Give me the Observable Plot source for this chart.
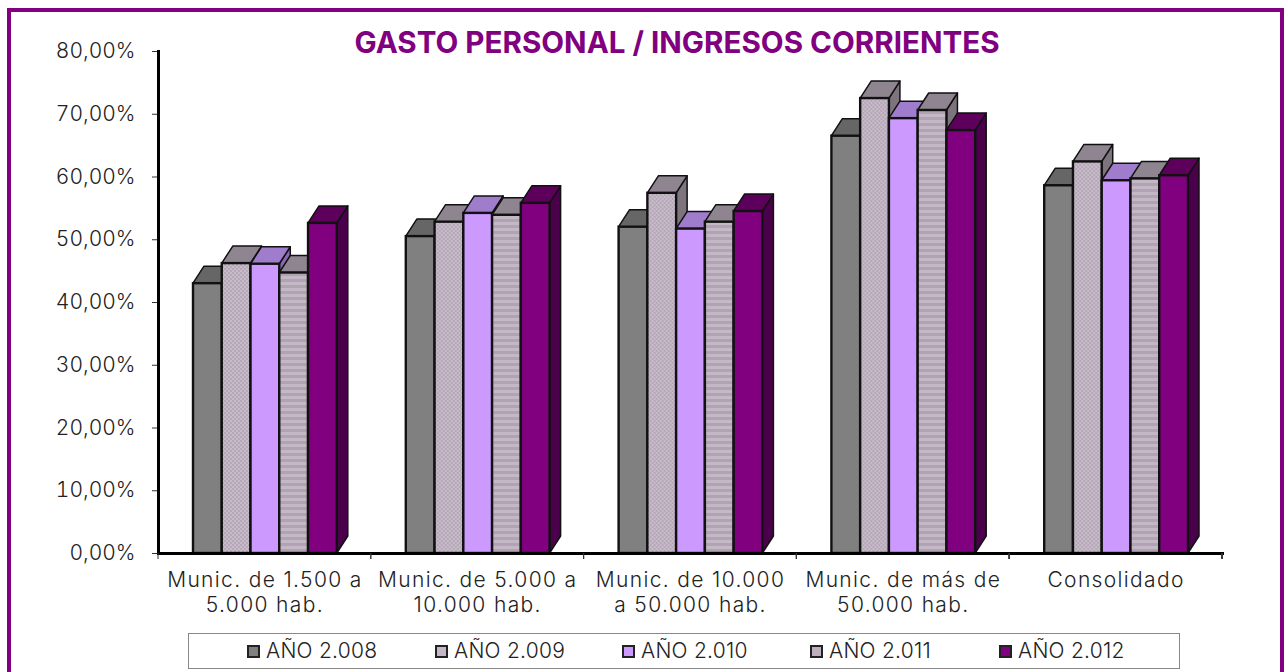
<!DOCTYPE html>
<html><head><meta charset="utf-8">
<script src="https://cdn.jsdelivr.net/npm/d3@7"></script>
<script src="https://cdn.jsdelivr.net/npm/@observablehq/plot@0.6"></script>
<style>
html,body{margin:0;padding:0;background:#fff;width:1287px;height:672px;overflow:hidden}
#wrap{position:relative;width:1287px;height:672px;overflow:hidden;font-family:Inter,sans-serif;font-weight:300;color:#222}
#border{position:absolute;left:7px;top:8px;width:1269px;height:720px;border:4px solid #800080}
#title{position:absolute;left:0;top:24px;width:1354px;text-align:center;font-size:29.6px;font-weight:700;color:#800080;white-space:nowrap}
#chart{position:absolute;left:0;top:0}
#legend{position:absolute;left:188px;top:633px;width:990px;height:34px;border:1px solid #888;background:#fff}
.item{position:absolute;top:0;height:34px;line-height:34px;font-size:21px;letter-spacing:.25px;white-space:nowrap;padding-left:19px}
.sw{position:absolute;left:0;top:11px;width:9px;height:9px;border:2px solid #222}
#chart g[aria-label="fx-axis tick label"] text{letter-spacing:1.35px}
</style></head>
<body><div id="wrap">
<div id="border"></div><div id="chart"></div>
<div id="title">GASTO PERSONAL / INGRESOS CORRIENTES</div>
<div id="legend"></div>
</div>
<script>
const categories = ["Munic. de 1.500 a\n5.000 hab.","Munic. de 5.000 a\n10.000 hab.","Munic. de 10.000\na 50.000 hab.","Munic. de más de\n50.000 hab.","Consolidado"];
const series = ["AÑO 2.008","AÑO 2.009","AÑO 2.010","AÑO 2.011","AÑO 2.012"];
const ano2008 = [43.0,50.5,52.0,66.5,58.6];
const ano2009 = [46.2,52.8,57.4,72.5,62.4];
const ano2010 = [46.1,54.2,51.7,69.3,59.4];
const ano2011 = [44.7,53.9,52.8,70.6,59.7];
const ano2012 = [52.6,55.8,54.5,67.4,60.2];
const yTicks = [0,10,20,30,40,50,60,70,80];
const valueSets = [ano2008,ano2009,ano2010,ano2011,ano2012];
const front = ["#808080","url(#dither)","#cc99ff","url(#stripes)","#800080"];
const top3d = ["#666666","#8f8590","#a07ccc","#8f8590","#5c005c"];
const side3d = ["#4d4d4d","#7d747e","#8a68b5","#7d747e","#4a004a"];
const legendFill = ["#808080","#c4b8c6","#cc99ff","#bcb0be","#800080"];
const DX = 11, DY = -17;

function box3d(rows, k){
  return function(index, scales, values, dims, ctx, next){
    const g = d3.create("svg:g");
    const w = scales.x.bandwidth();
    for (const i of index){
      const d = rows[i];
      const x0 = scales.x(d.series), x1 = x0 + w, y0 = scales.y(d.value), yb = scales.y(0);
      g.append("polygon").attr("points",[[x1,y0],[x1+DX,y0+DY],[x1+DX,yb+DY],[x1,yb]].join(" "))
        .attr("fill",side3d[k]).attr("stroke","#111").attr("stroke-width",1.5).attr("stroke-linejoin","round");
      g.append("polygon").attr("points",[[x0,y0],[x0+DX,y0+DY],[x1+DX,y0+DY],[x1,y0]].join(" "))
        .attr("fill",top3d[k]).attr("stroke","#111").attr("stroke-width",1.5).attr("stroke-linejoin","round");
    }
    g.node().append(next(index, scales, values, dims, ctx));
    return g.node();
  };
}
const barMarks = series.map((s,k)=>{
  const rows = categories.map((c,j)=>({category:c,series:s,value:valueSets[k][j]}));
  return Plot.barY(rows,{fx:"category",x:"series",y:"value",fill:front[k],stroke:"#111",strokeWidth:2.4,render:box3d(rows,k)});
});
const boundaryTicks = (index, scales, values, dims) => {
  const g = d3.create("svg:g");
  const b = scales.fx.bandwidth();
  const xs = categories.map(c=>scales.fx(c)).concat(scales.fx(categories[categories.length-1])+b);
  const yb = dims.height - dims.marginBottom;
  for (const x of xs) g.append("line").attr("x1",x).attr("x2",x).attr("y1",yb).attr("y2",yb+6).attr("stroke","#333");
  return g.node();
};
const plot = Plot.plot({
  width:1287,height:672,
  marginLeft:158,marginRight:65,marginTop:51,marginBottom:119,
  style:{background:"transparent",fontFamily:"Inter,sans-serif",fontWeight:300,color:"#222"},
  fx:{domain:categories,padding:0,round:false,label:null},
  x:{domain:series,padding:0,round:false,insetLeft:35,insetRight:34,axis:null,label:null},
  y:{domain:[0,80],label:null},
  marks:[
    ...barMarks,
    Plot.axisY({ticks:yTicks,tickSize:6,tickPadding:17,tickFormat:d=>d3.format(".2f")(d).replace(".",",")+"%",fontSize:21,stroke:"#333",label:null}),
    Plot.axisFx({anchor:"bottom",tickSize:0,tickPadding:16,fontSize:21,lineHeight:1.19,label:null,lineWidth:Infinity}),
    Plot.frame({anchor:"left",facet:"super",stroke:"#000",strokeWidth:3}),
    Plot.frame({anchor:"bottom",facet:"super",stroke:"#000",strokeWidth:3}),
    boundaryTicks
  ]
});
const defs = d3.select(plot).insert("defs",":first-child");
const dith = defs.append("pattern").attr("id","dither").attr("patternUnits","userSpaceOnUse").attr("width",4).attr("height",4);
dith.append("rect").attr("width",4).attr("height",4).attr("fill","#c8bccb");
dith.append("rect").attr("width",2).attr("height",2).attr("fill","#b5a7b7");
dith.append("rect").attr("x",2).attr("y",2).attr("width",2).attr("height",2).attr("fill","#b5a7b7");
const str = defs.append("pattern").attr("id","stripes").attr("patternUnits","userSpaceOnUse").attr("width",4).attr("height",6);
str.append("rect").attr("width",4).attr("height",6).attr("fill","#c4b7c6");
str.append("rect").attr("y",3).attr("width",4).attr("height",3).attr("fill","#b2a3b4");
document.getElementById("chart").append(plot);
const lg = d3.select("#legend");
const lx = [58,246,433,621,810];
series.forEach((s,k)=>{
  const it = lg.append("div").attr("class","item").style("left",lx[k]+"px").text(s);
  it.append("span").attr("class","sw").style("background",legendFill[k]);
});
</script></body></html>
